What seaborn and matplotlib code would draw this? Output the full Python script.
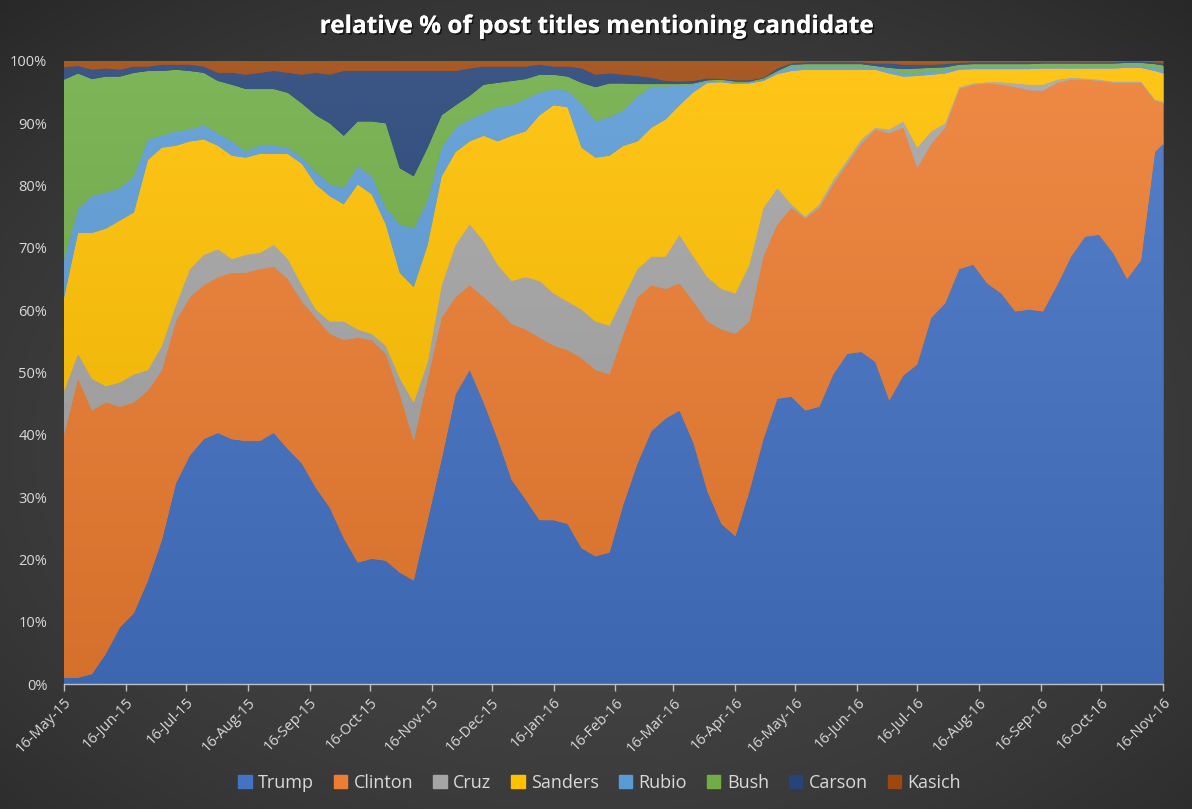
import numpy as np
import pandas as pd
import matplotlib
matplotlib.use("Agg")
import matplotlib.pyplot as plt
import matplotlib.dates as mdates
import matplotlib.colors as mcolors
import matplotlib.patheffects as pe
from matplotlib.patches import Patch
from matplotlib.ticker import PercentFormatter, MultipleLocator
import seaborn as sns

# weekly samples, 16-May-15 .. 16-Nov-16 (% of titles)
dates = list(pd.date_range("2015-05-16", periods=79, freq="7D")) + [pd.Timestamp("2016-11-16")]

trump = [1.0, 1.0, 1.6, 4.9, 9.1, 11.4, 16.6, 23.1, 32.2, 36.7, 39.3, 40.3, 39.3, 39.0, 39.0, 40.3,
         37.7, 35.4, 31.5, 28.3, 23.4, 19.5, 20.1, 19.8, 17.9, 16.6, 26.3, 36.1, 46.5, 50.4, 45.2, 39.3,
         32.8, 29.6, 26.3, 26.3, 25.7, 21.8, 20.5, 21.1, 28.9, 35.4, 40.6, 42.6, 43.9, 38.7, 30.9, 25.7,
         23.7, 30.9, 39.3, 45.8, 46.1, 43.9, 44.5, 49.7, 53.0, 53.3, 51.7, 45.5, 49.5, 51.3, 58.8, 61.1,
         66.6, 67.3, 64.3, 62.7, 59.8, 60.1, 59.8, 64.0, 68.6, 71.8, 72.1, 69.2, 65.0, 68.0, 85.4, 86.7]
clinton = [39.0, 48.0, 42.3, 40.3, 35.4, 33.8, 30.5, 27.3, 26.0, 25.4, 24.7, 25.0, 26.7, 27.0, 27.6, 26.7,
           27.3, 26.0, 27.3, 27.9, 31.8, 36.1, 35.1, 33.2, 28.6, 22.4, 22.7, 22.7, 15.6, 13.6, 16.9, 20.8,
           25.0, 27.3, 29.3, 28.0, 27.9, 30.5, 29.9, 28.6, 27.3, 26.7, 23.4, 20.8, 20.4, 22.7, 27.3, 31.2,
           32.5, 27.3, 29.3, 28.0, 30.3, 30.8, 31.9, 30.5, 30.5, 33.4, 37.3, 42.9, 39.8, 31.5, 27.9, 28.2,
           28.9, 28.9, 32.1, 33.5, 36.0, 35.2, 35.4, 32.5, 28.4, 25.2, 24.7, 27.3, 31.5, 28.5, 8.2, 6.6]
cruz = [7.0, 4.0, 5.1, 2.6, 3.9, 4.5, 3.3, 3.9, 2.6, 4.5, 4.9, 4.5, 2.2, 2.9, 2.6, 3.5,
        3.2, 2.6, 1.3, 2.0, 3.0, 1.3, 1.0, 1.3, 2.6, 6.2, 2.7, 5.2, 8.4, 9.8, 9.0, 7.2,
        6.9, 8.4, 9.1, 8.4, 7.8, 7.8, 7.8, 7.8, 5.9, 4.5, 4.6, 5.2, 7.8, 7.2, 7.1, 6.5,
        6.5, 9.1, 7.8, 5.8, 0.6, 0.3, 0.6, 0.7, 0.6, 0.7, 0.3, 0.6, 1.0, 3.3, 2.0, 0.7,
        0.3, 0.2, 0.2, 0.4, 0.6, 0.9, 1.0, 0.5, 0.3, 0.2, 0.2, 0.2, 0.2, 0.2, 0.2, 0.2]
sanders = [15.0, 19.4, 23.4, 25.3, 26.0, 26.0, 33.7, 31.8, 25.6, 20.5, 18.5, 16.6, 16.6, 15.6, 15.9, 14.6,
           16.9, 19.5, 20.1, 20.1, 18.8, 23.3, 22.4, 19.5, 16.9, 18.5, 18.8, 17.5, 14.9, 13.3, 16.9, 19.8,
           23.3, 23.4, 26.6, 30.2, 31.2, 26.0, 26.3, 27.3, 24.3, 20.5, 20.7, 22.0, 20.8, 26.4, 31.2, 33.2,
           33.6, 29.1, 20.4, 18.3, 21.4, 23.6, 21.6, 17.7, 14.5, 11.2, 9.3, 9.0, 7.2, 11.5, 9.1, 8.0,
           2.8, 2.3, 2.1, 2.1, 2.3, 2.5, 2.6, 1.8, 1.5, 1.6, 1.8, 2.1, 2.2, 2.2, 4.6, 4.5]
rubio = [6.0, 3.9, 5.9, 5.8, 5.2, 5.8, 3.3, 1.9, 2.3, 1.9, 2.3, 2.0, 2.3, 1.0, 1.3, 1.3,
         1.0, 1.0, 2.0, 1.9, 2.6, 2.9, 2.9, 2.6, 7.8, 9.4, 7.1, 4.6, 3.9, 3.5, 3.6, 5.5,
         4.9, 5.2, 3.6, 2.6, 2.6, 7.1, 5.8, 6.2, 5.7, 7.2, 6.6, 5.3, 3.2, 1.2, 0.2, 0.2,
         0.2, 0.2, 0.2, 0.3, 0.7, 0.5, 0.5, 0.5, 0.5, 0.5, 0.3, 0.6, 0.5, 0.5, 0.5, 0.5,
         0.3, 0.3, 0.3, 0.3, 0.3, 0.3, 0.3, 0.3, 0.3, 0.3, 0.3, 0.3, 0.3, 0.3, 0.5, 0.6]
bush = [29.0, 21.7, 18.8, 18.6, 17.9, 16.6, 11.0, 10.4, 9.9, 9.4, 8.4, 8.4, 9.1, 10.0, 9.1, 9.1,
        8.8, 8.7, 9.1, 9.8, 8.4, 7.2, 8.8, 13.6, 9.0, 8.4, 8.5, 5.2, 3.6, 3.8, 4.6, 3.9,
        3.9, 3.2, 2.9, 2.3, 2.3, 3.3, 5.5, 5.4, 4.3, 2.0, 0.4, 0.4, 0.2, 0.2, 0.2, 0.2,
        0.2, 0.1, 0.2, 0.2, 0.3, 0.4, 0.4, 0.4, 0.4, 0.4, 0.3, 0.3, 0.7, 0.7, 0.6, 0.5,
        0.5, 0.5, 0.5, 0.5, 0.5, 0.5, 0.5, 0.5, 0.5, 0.5, 0.5, 0.5, 0.5, 0.5, 0.6, 0.7]
carson = [2.0, 1.2, 1.5, 1.3, 1.1, 1.0, 0.7, 1.0, 0.8, 1.0, 1.0, 1.3, 1.9, 2.3, 2.6, 2.9,
          3.2, 4.6, 6.8, 7.8, 10.4, 8.1, 8.1, 8.4, 15.6, 16.9, 12.3, 7.1, 5.5, 4.4, 2.9, 2.6,
          2.3, 2.0, 1.6, 1.3, 1.6, 2.3, 2.0, 1.6, 1.4, 1.3, 1.0, 0.5, 0.4, 0.4, 0.3, 0.1,
          0.2, 0.2, 0.1, 0.4, 0.2, 0.3, 0.3, 0.3, 0.3, 0.3, 0.4, 0.7, 0.7, 0.6, 0.5, 0.5,
          0.3, 0.3, 0.3, 0.3, 0.3, 0.3, 0.2, 0.2, 0.2, 0.2, 0.2, 0.2, 0.2, 0.2, 0.3, 0.4]
kasich = [1.0, 0.8, 1.4, 1.2, 1.4, 0.9, 0.9, 0.6, 0.6, 0.6, 0.9, 1.9, 1.9, 2.2, 1.9, 1.6,
          1.9, 2.2, 1.9, 2.2, 1.6, 1.6, 1.6, 1.6, 1.6, 1.6, 1.6, 1.6, 1.6, 1.2, 0.9, 0.9,
          0.9, 0.9, 0.6, 0.9, 0.9, 1.2, 2.2, 2.0, 2.2, 2.4, 2.7, 3.2, 3.3, 3.2, 2.8, 2.9,
          3.1, 3.1, 2.7, 1.2, 0.4, 0.2, 0.2, 0.2, 0.2, 0.2, 0.4, 0.4, 0.6, 0.6, 0.6, 0.5,
          0.3, 0.2, 0.2, 0.2, 0.2, 0.2, 0.2, 0.2, 0.2, 0.2, 0.2, 0.2, 0.1, 0.1, 0.2, 0.3]

names = ["Trump", "Clinton", "Cruz", "Sanders", "Rubio", "Bush", "Carson", "Kasich"]
colors = ["#4472C4", "#ED7D31", "#A5A5A5", "#FFC000", "#5B9BD5", "#70AD47", "#264478", "#9E480E"]

df = pd.DataFrame(dict(zip(names, [trump, clinton, cruz, sanders, rubio, bush, carson, kasich])),
                  index=pd.DatetimeIndex(dates))
# 100% stacked: rescale each day to sum to 100
df = df.div(df.sum(axis=1), axis=0) * 100

sns.set_theme(style="dark", palette=sns.color_palette(colors))
plt.rcParams["font.family"] = ["Open Sans", "DejaVu Sans"]

fig = plt.figure(figsize=(11.92, 8.09), dpi=100)

# dark radial background, lighter towards the middle
bg = fig.add_axes([0, 0, 1, 1], zorder=-10)
yy, xx = np.mgrid[0:1:400j, 0:1:600j]
r = np.sqrt(((xx - 0.5) * 1.0) ** 2 + ((yy - 0.45) * 1.0) ** 2)
shade = 0.275 - 0.12 * np.clip(r / 0.75, 0, 1) ** 2
bg.imshow(np.dstack([shade] * 3), extent=[0, 1, 0, 1], origin="lower", aspect="auto")
bg.set_axis_off()

ax = fig.add_axes([64 / 1192, 1 - 684 / 809, (1163 - 64) / 1192, (684 - 61) / 809])
ax.set_facecolor("none")

x = mdates.date2num(df.index.to_pydatetime())
polys = ax.stackplot(x, *[df[n].values for n in names], colors=colors, labels=names,
                     linewidth=0.4)

# subtle vertical gradient inside each band (lighter at the top)
grad = np.linspace(0, 1, 256)[:, None, None]
for poly, col in zip(polys, colors):
    poly.set_edgecolor(col)
    rgb = np.array(mcolors.to_rgb(col))
    top = rgb + (1 - rgb) * 0.10
    bot = rgb * 0.90
    img = top * (1 - grad) + bot * grad
    img = np.repeat(img, 2, axis=1)
    im = ax.imshow(img, extent=[x[0], x[-1], 0, 100], origin="upper", aspect="auto",
                   zorder=poly.get_zorder() + 0.1, interpolation="bilinear")
    im.set_clip_path(poly.get_paths()[0], transform=ax.transData)

ax.set_xlim(x[0], x[-1])
ax.set_ylim(0, 100)

ax.xaxis.set_major_locator(mdates.MonthLocator(bymonthday=16))
ax.xaxis.set_major_formatter(mdates.DateFormatter("%d-%b-%y"))
ax.yaxis.set_major_locator(MultipleLocator(10))
ax.yaxis.set_major_formatter(PercentFormatter(decimals=0))

for s in ["top", "right", "left"]:
    ax.spines[s].set_visible(False)
ax.spines["bottom"].set_color("#bfbfbf")
ax.spines["bottom"].set_linewidth(1.0)
ax.spines["bottom"].set_zorder(10)

ax.tick_params(axis="x", colors="#bfbfbf", length=5, width=1, direction="out",
               labelcolor="#d9d9d9", labelsize=10.5, pad=3, bottom=True)
ax.tick_params(axis="y", length=0, labelcolor="#d9d9d9", labelsize=10.5, pad=12)
for lab in ax.get_xticklabels():
    lab.set_rotation(45)
    lab.set_ha("right")
    lab.set_rotation_mode("anchor")
ax.grid(False)
ax.set_xlabel("")
ax.set_ylabel("")

fig.text(0.5, 1 - 27 / 809, "relative % of post titles mentioning candidate",
         ha="center", va="center", color="white", fontsize=17.5, fontweight="bold",
         path_effects=[pe.withSimplePatchShadow(offset=(1.2, -1.2), shadow_rgbFace="black", alpha=0.6),
                       pe.Normal()])

handles = [Patch(facecolor=c, edgecolor=c) for c in colors]
leg = fig.legend(handles, names, loc="center", bbox_to_anchor=(0.503, 1 - 783 / 809), ncol=8,
                 frameon=False, fontsize=13, handlelength=0.75, handleheight=0.75,
                 handletextpad=0.35, columnspacing=1.1)
for t in leg.get_texts():
    t.set_color("#d9d9d9")

fig.savefig("out.png", dpi=100, facecolor="#262626")
